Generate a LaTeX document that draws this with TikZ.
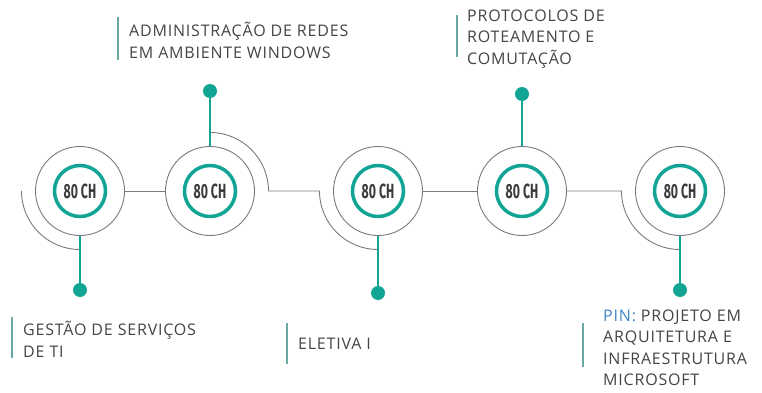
\documentclass[tikz,border=0pt]{standalone}
\usepackage{fontspec}
\usepackage{graphicx}
\setmainfont{Open Sans}[LetterSpace=5]
\newfontfamily\numfont{Fira Sans}
\definecolor{teal1}{HTML}{12A596}
\definecolor{grayline}{HTML}{7A7A7A}
\definecolor{txt}{HTML}{444444}
\definecolor{barc}{HTML}{6AA8A2}
\definecolor{pinblue}{HTML}{3F86C8}
\begin{document}
\begin{tikzpicture}[x=1pt,y=1pt,
  outer/.style={circle,draw=grayline,line width=0.9pt,minimum size=89pt,inner sep=0pt},
  ring/.style={circle,draw=teal1,line width=3.5pt,minimum size=51pt,inner sep=0pt,
    font=\numfont\bfseries\fontsize{20.5}{20.5}\selectfont,text=txt!85!black},
  gline/.style={draw=grayline,line width=0.9pt},
  tline/.style={draw=teal1,line width=1.2pt},
  dot/.style={circle,fill=teal1,minimum size=14pt,inner sep=0pt},
  lbl/.style={anchor=north west,inner sep=0pt,align=left,text=txt,
    font=\fontsize{16}{21.5}\selectfont},
  bar/.style={draw=barc,line width=1.6pt}
]
\useasboundingbox (0,0) rectangle (762,392);
\newcommand{\ch}{\scalebox{0.6}[1]{80 CH}}
% circles
\foreach \n/\x in {1/80,2/210,3/378,4/522,5/680}{
  \node[outer] (c\n) at (\x,201) {};
  \node[ring] (r\n) at (\x,201) {\ch};
}
% arcs and connectors
\coordinate (a1s) at (21.5,201);
\coordinate (a2s) at (210,259.5);
\coordinate (a3s) at (319.5,201);
\coordinate (a5s) at (621.5,201);
\draw[gline] (a1s) arc[start angle=180,end angle=270,radius=58.5];
\draw[gline] (c1.east) -- (c2.west);
\draw[gline] (a2s) arc[start angle=90,end angle=0,radius=58.5] -- (a3s)
  arc[start angle=180,end angle=270,radius=58.5];
\draw[gline] (c3.east) -- (c4.west);
\draw[gline] (c4.east) -- (a5s) arc[start angle=180,end angle=270,radius=58.5];
% dots
\node[dot] (d1) at (80,102) {};
\node[dot] (d2) at (210,301) {};
\node[dot] (d3) at (378,99) {};
\node[dot] (d4) at (522,298) {};
\node[dot] (d5) at (680,102) {};
\draw[tline] (c1.south) -- (d1);
\draw[tline] (c2.north) -- (d2);
\draw[tline] (c3.south) -- (d3);
\draw[tline] (c4.north) -- (d4);
\draw[tline] (c5.south) -- (d5);
% labels
\node[lbl] (t2) at (129,370) {\rule{0pt}{14pt}ADMINISTRAÇÃO DE REDES\\EM AMBIENTE WINDOWS};
\node[lbl] (t4) at (467,385) {\rule{0pt}{14pt}PROTOCOLOS DE\\ROTEAMENTO E\\COMUTAÇÃO};
\node[lbl] (t1) at (23,71) {\rule{0pt}{14pt}GESTÃO DE SERVIÇOS\\DE TI};
\node[lbl] (t3) at (298,57) {\rule{0pt}{14pt}ELETIVA I};
\node[lbl] (t5) at (603,85) {\rule{0pt}{14pt}\textcolor{pinblue}{PIN:} PROJETO EM\\ARQUITETURA E\\INFRAESTRUTURA\\MICROSOFT};
% bars
\draw[bar] (118,375) -- (118,332);
\draw[bar] (457,377) -- (457,335);
\draw[bar] (12,75) -- (12,34);
\draw[bar] (287,69) -- (287,28);
\draw[bar] (583,69) -- (583,25);
\end{tikzpicture}
\end{document}
